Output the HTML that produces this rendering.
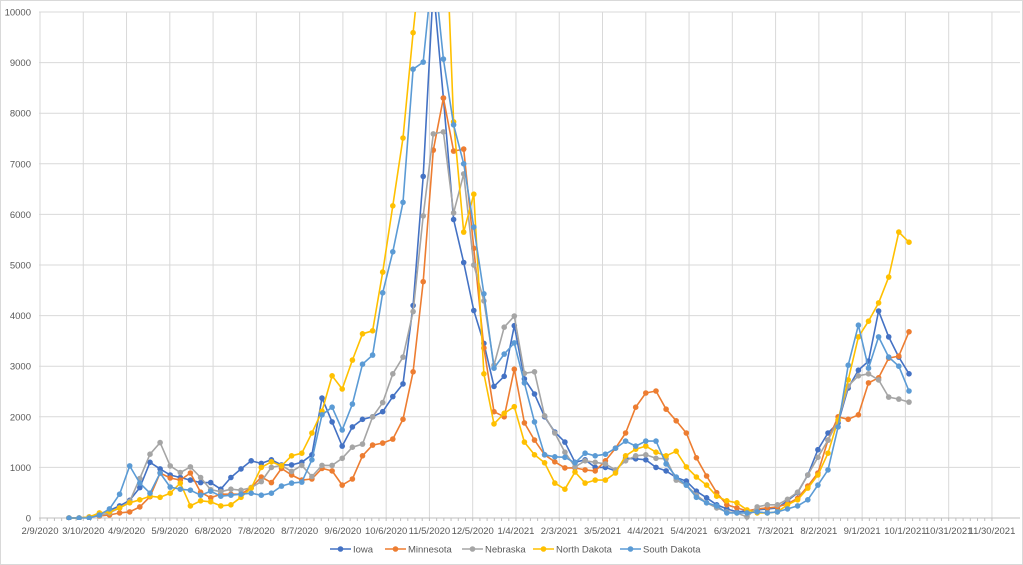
<!DOCTYPE html>
<html><head><meta charset="utf-8"><style>
html,body{margin:0;padding:0;background:#fff}
svg{display:block;font-family:"Liberation Sans",sans-serif}
</style></head><body>
<svg id="c" width="1023" height="565" xmlns="http://www.w3.org/2000/svg">
<rect x="0.5" y="0.5" width="1022" height="564" fill="#fff" stroke="#d9d9d9"/>
<defs><clipPath id="pc"><rect x="39" y="12" width="984" height="508"/></clipPath></defs>
<g id="grid"></g><g id="lbl" font-size="9.5" fill="#595959"></g>
<g id="series" clip-path="url(#pc)"></g>
<g id="leg" font-size="9.5" fill="#595959"></g>
</svg>
<script>
const NS="http://www.w3.org/2000/svg";
function el(p,t,a,txt){const e=document.createElementNS(NS,t);for(const k in a)e.setAttribute(k,a[k]);if(txt!=null)e.textContent=txt;p.appendChild(e);return e;}
const g=document.getElementById('grid'),L=document.getElementById('lbl'),S=document.getElementById('series'),G=document.getElementById('leg');
const Y=v=>518-v*50.6;
for(let i=0;i<=10;i++){const y=Y(i);el(g,'line',{x1:39,x2:1020,y1:y,y2:y,stroke:'#d9d9d9','stroke-width':1});
el(L,'text',{x:31,y:y+3.5,'text-anchor':'end'},String(i*1000));}
const xl=["2/9/2020","3/10/2020","4/9/2020","5/9/2020","6/8/2020","7/8/2020","8/7/2020","9/6/2020","10/6/2020","11/5/2020","12/5/2020","1/4/2021","2/3/2021","3/5/2021","4/4/2021","5/4/2021","6/3/2021","7/3/2021","8/2/2021","9/1/2021","10/1/2021","10/31/2021","11/30/2021"];
for(let i=0;i<xl.length;i++){const x=40+i*43.27;el(g,'line',{x1:x,x2:x,y1:12,y2:518,stroke:'#d9d9d9','stroke-width':1});
el(L,'text',{x:x,y:534,'text-anchor':'middle'},xl[i]);}
el(g,'line',{x1:39,x2:1020,y1:518,y2:518,stroke:'#bfbfbf','stroke-width':1});
for(let x=40;x<992;x+=43.27/6){el(g,'line',{x1:x,x2:x,y1:518,y2:521,stroke:'#bfbfbf','stroke-width':1});}
const D={
"Iowa":["#4472C4",[0,0,.02,.08,.15,.24,.35,.6,1.1,.97,.85,.8,.75,.7,.7,.57,.8,.97,1.13,1.08,1.15,1.05,1.05,1.1,1.25,2.37,1.9,1.42,1.8,1.95,2.0,2.1,2.4,2.65,4.2,6.75,10.5,8.3,5.9,5.05,4.1,3.45,2.6,2.8,3.8,2.75,2.45,2.0,1.7,1.5,1.1,1.15,1.0,1.0,.93,1.18,1.17,1.15,1.0,.93,.8,.73,.53,.4,.26,.18,.12,.14,.16,.18,.2,.34,.5,.85,1.35,1.68,1.88,2.57,2.92,3.1,4.09,3.58,3.18,2.85]],
"Minnesota":["#ED7D31",[0,0,.02,.04,.06,.1,.12,.22,.42,.89,.79,.75,.89,.51,.4,.47,.47,.47,.6,.81,.7,.98,.85,.75,.77,.98,.93,.65,.77,1.23,1.44,1.48,1.56,1.95,2.89,4.67,7.27,8.3,7.25,7.29,5.33,3.36,2.1,2.0,2.94,1.88,1.54,1.25,1.11,.99,.99,.95,.93,1.13,1.38,1.68,2.19,2.47,2.51,2.15,1.92,1.68,1.19,.83,.5,.26,.2,.14,.18,.2,.22,.28,.39,.63,.89,1.54,2.0,1.95,2.04,2.67,2.77,3.16,3.2,3.68]],
"Nebraska":["#A5A5A5",[0,0,.02,.05,.1,.2,.33,.78,1.26,1.49,1.03,.9,1.01,.8,.56,.52,.57,.55,.6,.72,1.0,1.04,.92,1.04,.82,1.04,1.04,1.18,1.4,1.46,2.0,2.28,2.85,3.18,4.08,5.97,7.59,7.63,6.03,6.8,5.0,4.29,3.02,3.77,3.99,2.86,2.89,2.02,1.68,1.3,1.01,1.13,1.1,1.07,.95,1.13,1.23,1.25,1.18,1.17,.75,.65,.45,.3,.2,.12,.1,.02,.22,.26,.26,.37,.51,.85,1.2,1.54,1.92,2.61,2.81,2.85,2.73,2.39,2.35,2.29]],
"North Dakota":["#FFC000",[0,0,.02,.1,.12,.2,.3,.36,.43,.41,.49,.69,.24,.34,.32,.24,.26,.41,.59,1.0,1.11,1.03,1.23,1.28,1.68,2.11,2.81,2.55,3.12,3.64,3.7,4.86,6.17,7.51,9.59,11.5,13,13,7.83,5.65,6.4,2.85,1.86,2.07,2.2,1.5,1.25,1.09,.69,.57,.91,.69,.75,.75,.89,1.23,1.36,1.42,1.3,1.23,1.32,1.01,.81,.65,.43,.34,.3,.16,.1,.1,.12,.26,.36,.59,.85,1.28,1.94,2.73,3.58,3.89,4.25,4.76,5.65,5.45]],
"South Dakota":["#5B9BD5",[0,0,0,.06,.18,.47,1.03,.69,.49,.89,.61,.57,.55,.45,.53,.43,.45,.47,.49,.45,.49,.63,.69,.71,1.15,2.04,2.19,1.74,2.25,3.04,3.22,4.45,5.26,6.24,8.87,9.01,11,9.07,7.77,7.0,5.75,4.43,2.96,3.24,3.46,2.67,1.9,1.25,1.21,1.2,1.09,1.28,1.23,1.26,1.38,1.52,1.42,1.52,1.52,1.07,.81,.65,.41,.3,.24,.1,.1,.1,.12,.1,.12,.18,.24,.36,.65,.95,1.8,3.02,3.81,2.96,3.58,3.18,3.0,2.51]]
};
for(const n in D){const [c,v]=D[n];const pts=v.map((d,i)=>[69+i*10.12,Y(d)]);
el(S,'polyline',{points:pts.map(p=>p[0].toFixed(1)+','+p[1].toFixed(1)).join(' '),fill:'none',stroke:c,'stroke-width':1.6,'stroke-linejoin':'round'});
pts.forEach(p=>el(S,'circle',{cx:p[0].toFixed(1),cy:p[1].toFixed(1),r:2.8,fill:c}));}
const lx=[330,385,462,533,620];let k=0;
for(const n in D){const c=D[n][0],x=lx[k++];
el(G,'line',{x1:x,x2:x+21,y1:549,y2:549,stroke:c,'stroke-width':1.6});
el(G,'circle',{cx:x+10.5,cy:549,r:2.8,fill:c});
el(G,'text',{x:x+23,y:552.5},n);}
</script>
</body></html>
